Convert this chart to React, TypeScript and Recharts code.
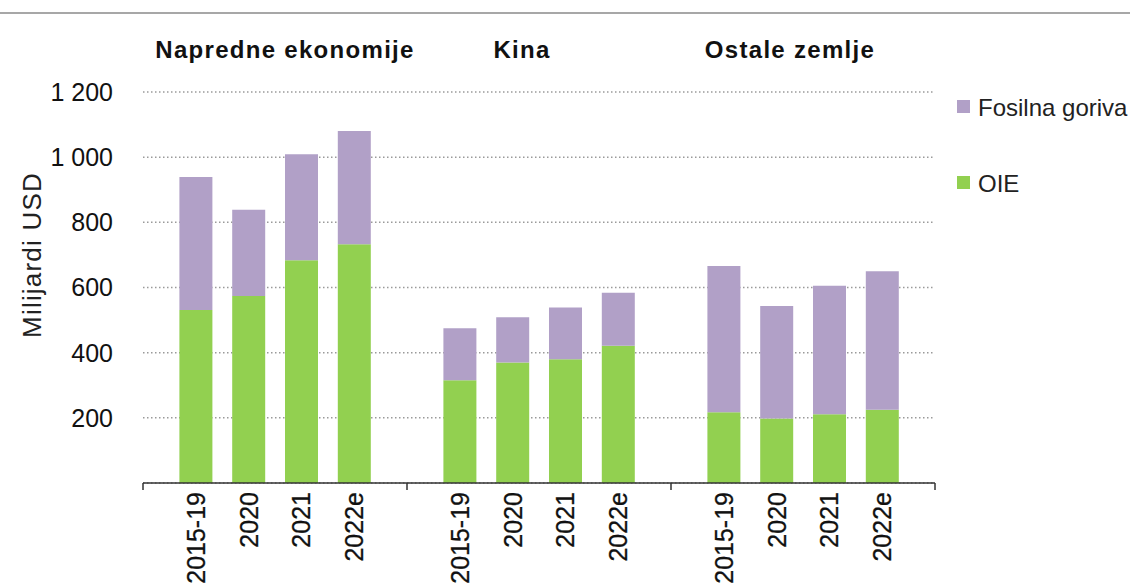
import { BarChart, Bar, XAxis, YAxis, CartesianGrid } from 'recharts';

// Kategorije i vrijednosti (milijardi USD), očitano sa slike
const groups = ['Napredne ekonomije', 'Kina', 'Ostale zemlje'];
const periods = ['2015-19', '2020', '2021', '2022e'];
const oie = [531, 574, 684, 733, 315, 370, 380, 421, 217, 198, 211, 225];
const fosilna = [408, 265, 325, 347, 160, 139, 159, 163, 449, 345, 394, 425];
const yTicks = [200, 400, 600, 800, 1000, 1200];

const GREEN = '#92D050';
const PURPLE = '#B1A0C7';

// svaka grupa zauzima 5 jedinica na x osi, stupci na 1..4
const chartData = oie.map((v, i) => ({
  pos: Math.floor(i / periods.length) * 5 + (i % periods.length) + 1,
  period: periods[i % periods.length],
  oie: v,
  fosilna: fosilna[i],
}));

const xTicks = Array.from({ length: 16 }, (_, i) => i);

const formatY = (v: number) => (v >= 1000 ? `${Math.floor(v / 1000)} ${String(v % 1000).padStart(3, '0')}` : String(v));

const XTick = ({ x, y, payload }: any) => {
  const v = payload.value;
  if (v % 5 === 0) {
    return <line x1={x} x2={x} y1={y - 7} y2={y} stroke="#333" strokeWidth={1.5} />;
  }
  const ty = y + 2;
  return (
    <text
      x={x}
      y={ty}
      transform={`rotate(-90 ${x} ${ty})`}
      textAnchor="end"
      dy="0.36em"
      fill="#111"
      stroke="#111"
      strokeWidth={0.3}
      style={{ fontFamily: 'Liberation Sans', fontSize: 25 }}
    >
      {periods[(v % 5) - 1]}
    </text>
  );
};

const titleX = [285, 522, 790];
const legendItems = [
  { label: 'Fosilna goriva', color: PURPLE, y: 107 },
  { label: 'OIE', color: GREEN, y: 183 },
];

const App = () => {
  return (
    <div style={{ position: 'absolute', left: 0, top: 0, width: 1130, height: 588, background: '#fff' }}>
      <BarChart width={1130} height={588} data={chartData} margin={{ top: 92, right: 195, bottom: 5, left: 0 }}>
        <CartesianGrid vertical={false} stroke="#9a9a9a" strokeDasharray="1.5 2.5" strokeWidth={1.5} />
        <XAxis
          dataKey="pos"
          type="number"
          domain={[0, 15]}
          ticks={xTicks}
          interval={0}
          height={100}
          tickLine={false}
          tickSize={7}
          tickMargin={0}
          axisLine={{ stroke: '#333', strokeWidth: 1.5 }}
          tick={<XTick />}
        />
        <YAxis
          domain={[0, 1200]}
          ticks={yTicks}
          width={143}
          axisLine={false}
          tickLine={false}
          tickSize={0}
          tickMargin={30}
          tickFormatter={formatY}
          tick={{ fill: '#111', fontSize: 25, fontFamily: 'Liberation Sans' }}
          label={() => (
            <text
              x={32}
              y={255}
              transform="rotate(-90 32 255)"
              textAnchor="middle"
              dy="0.36em"
              fill="#222"
              style={{ fontFamily: 'Liberation Sans', fontSize: 26, letterSpacing: 1.2 }}
            >
              Milijardi USD
            </text>
          )}
        />
        <Bar dataKey="oie" stackId="a" fill={GREEN} barSize={33} isAnimationActive={false} />
        <Bar dataKey="fosilna" stackId="a" fill={PURPLE} barSize={33} isAnimationActive={false} />
      </BarChart>
      <svg width={1130} height={588} style={{ position: 'absolute', left: 0, top: 0, pointerEvents: 'none' }}>
        <line x1={0} x2={1130} y1={13} y2={13} stroke="#8a8a8a" strokeWidth={1.5} />
        {groups.map((g, i) => (
          <text
            key={g}
            x={titleX[i]}
            y={58}
            textAnchor="middle"
            fill="#111"
            style={{ fontFamily: 'Liberation Sans', fontWeight: 'bold', fontSize: 24, letterSpacing: 1.3 }}
          >
            {g}
          </text>
        ))}
        {legendItems.map((it) => (
          <g key={it.label}>
            <rect x={957} y={it.y - 7} width={13} height={13} fill={it.color} />
            <text x={978} y={it.y} dy="0.36em" fill="#222" style={{ fontFamily: 'Liberation Sans', fontSize: 24 }}>
              {it.label}
            </text>
          </g>
        ))}
      </svg>
    </div>
  );
};

export default App;
